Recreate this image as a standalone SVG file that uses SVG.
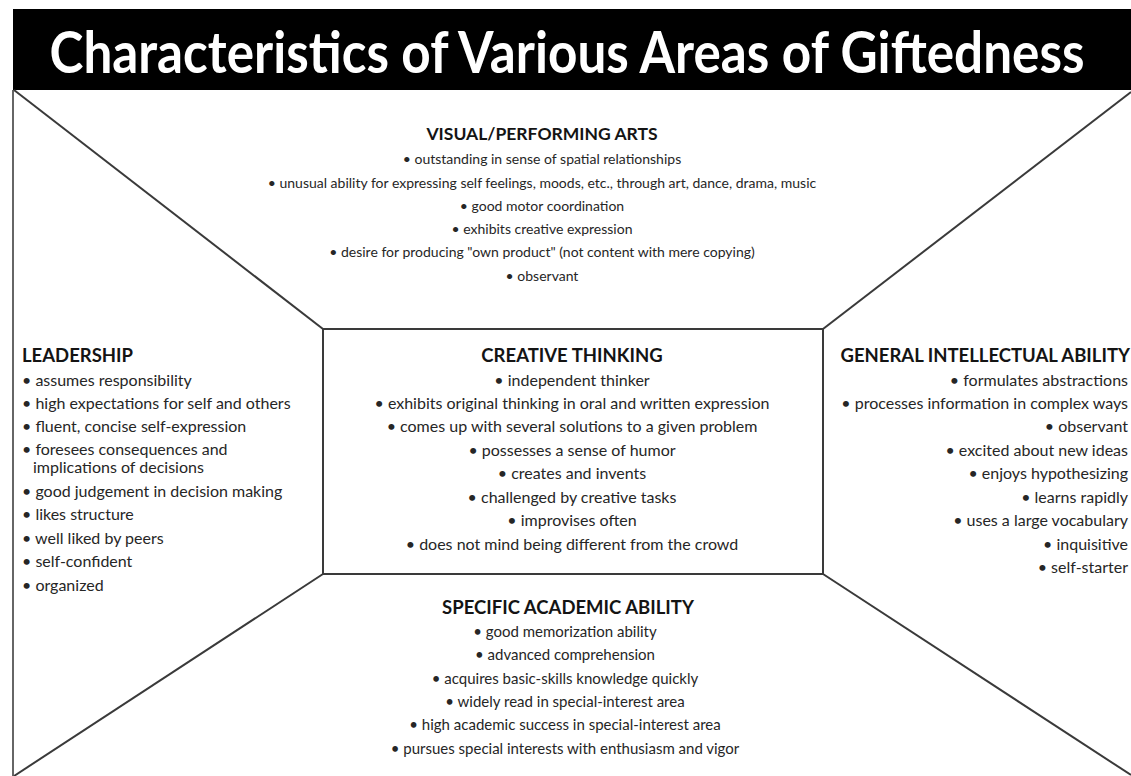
<svg xmlns="http://www.w3.org/2000/svg" width="1131" height="776" viewBox="0 0 1131 776">
<style>
.ln{stroke:#3a3a3a;stroke-width:2;fill:none}
.h{font-family:Lato,"Liberation Sans",sans-serif;font-weight:700;font-size:18.5px;fill:#141414}
.t{font-family:Lato,"Liberation Sans",sans-serif;font-size:16px;fill:#262626}
.hs{font-size:17.5px}
.ts{font-size:14px}
.tm{font-size:15px}
.c{text-anchor:middle}
.r{text-anchor:end}
</style>
<rect width="1131" height="776" fill="#fff"/>
<g id="title">
<rect x="13" y="9" width="1118" height="81" fill="#000"/>
<text x="567" y="63.5" transform="scale(1,1.15)" text-anchor="middle" textLength="1035" lengthAdjust="spacingAndGlyphs" style="font-family:Lato,'Liberation Sans',sans-serif;font-weight:700;font-size:50px;fill:#fff">Characteristics of Various Areas of Giftedness</text>
</g>
<g id="connectors">
<line x1="13" y1="90" x2="13" y2="776" style="stroke:#666;stroke-width:2"/>
<line class="ln" x1="14" y1="90" x2="323" y2="329"/>
<line class="ln" x1="1131" y1="92" x2="823" y2="329"/>
<line class="ln" x1="323" y1="574" x2="14" y2="776"/>
<line class="ln" x1="823" y1="574" x2="1131" y2="775"/>
</g>
<g id="visual-performing-arts">
<text class="h hs c" x="542" y="140">VISUAL/PERFORMING ARTS</text>
<text class="t ts c" x="542" y="164">• outstanding in sense of spatial relationships</text>
<text class="t ts c" x="542" y="188">• unusual ability for expressing self feelings, moods, etc., through art, dance, drama, music</text>
<text class="t ts c" x="542" y="211">• good motor coordination</text>
<text class="t ts c" x="542" y="234">• exhibits creative expression</text>
<text class="t ts c" x="542" y="257">• desire for producing "own product" (not content with mere copying)</text>
<text class="t ts c" x="542" y="281">• observant</text>
</g>
<g id="leadership">
<text class="h" x="22" y="362">LEADERSHIP</text>
<text class="t" x="22" y="386">• assumes responsibility</text>
<text class="t" x="22" y="409">• high expectations for self and others</text>
<text class="t" x="22" y="432">• fluent, concise self-expression</text>
<text class="t" x="22" y="455">• foresees consequences and</text>
<text class="t" x="33" y="473">implications of decisions</text>
<text class="t" x="22" y="497">• good judgement in decision making</text>
<text class="t" x="22" y="520">• likes structure</text>
<text class="t" x="22" y="544">• well liked by peers</text>
<text class="t" x="22" y="567">• self-confident</text>
<text class="t" x="22" y="591">• organized</text>
</g>
<g id="creative-thinking">
<rect class="ln" x="323" y="329" width="500" height="245"/>
<text class="h c" x="572" y="362">CREATIVE THINKING</text>
<text class="t c" x="572" y="386">• independent thinker</text>
<text class="t c" x="572" y="409">• exhibits original thinking in oral and written expression</text>
<text class="t c" x="572" y="432">• comes up with several solutions to a given problem</text>
<text class="t c" x="572" y="456">• possesses a sense of humor</text>
<text class="t c" x="572" y="479">• creates and invents</text>
<text class="t c" x="572" y="503">• challenged by creative tasks</text>
<text class="t c" x="572" y="526">• improvises often</text>
<text class="t c" x="572" y="550">• does not mind being different from the crowd</text>
</g>
<g id="general-intellectual-ability">
<text class="h r" x="1130" y="362">GENERAL INTELLECTUAL ABILITY</text>
<text class="t r" x="1128" y="386">• formulates abstractions</text>
<text class="t r" x="1128" y="409">• processes information in complex ways</text>
<text class="t r" x="1128" y="432">• observant</text>
<text class="t r" x="1128" y="456">• excited about new ideas</text>
<text class="t r" x="1128" y="479">• enjoys hypothesizing</text>
<text class="t r" x="1128" y="503">• learns rapidly</text>
<text class="t r" x="1128" y="526">• uses a large vocabulary</text>
<text class="t r" x="1128" y="550">• inquisitive</text>
<text class="t r" x="1128" y="573">• self-starter</text>
</g>
<g id="specific-academic-ability">
<text class="h c" x="568" y="614">SPECIFIC ACADEMIC ABILITY</text>
<text class="t tm c" x="565" y="637">• good memorization ability</text>
<text class="t tm c" x="565" y="660">• advanced comprehension</text>
<text class="t tm c" x="565" y="684">• acquires basic-skills knowledge quickly</text>
<text class="t tm c" x="565" y="707">• widely read in special-interest area</text>
<text class="t tm c" x="565" y="730">• high academic success in special-interest area</text>
<text class="t tm c" x="565" y="754">• pursues special interests with enthusiasm and vigor</text>
</g>
</svg>
